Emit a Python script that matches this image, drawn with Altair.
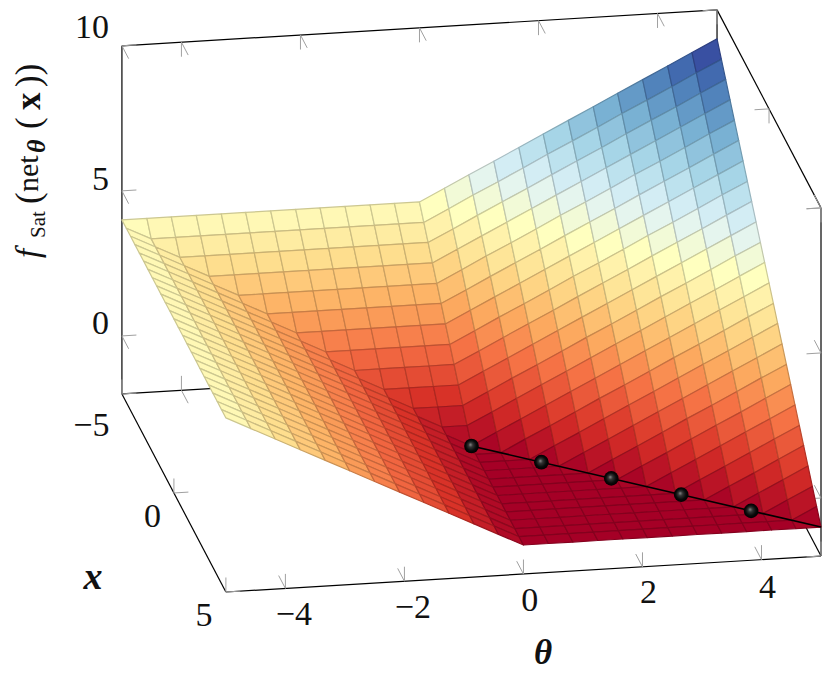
import altair as alt
import pandas as pd

THETA_GRID = [-5.0,-4.58,-4.17,-3.75,-3.33,-2.92,-2.5,-2.08,-1.67,-1.25,-0.83,-0.42,0.0,0.42,0.83,1.25,1.67,2.08,2.5,2.92,3.33,3.75,4.17,4.58,5.0]
X_GRID = [-5.0,-4.58,-4.17,-3.75,-3.33,-2.92,-2.5,-2.08,-1.67,-1.25,-0.83,-0.42,0.0,0.42,0.83,1.25,1.67,2.08,2.5,2.92,3.33,3.75,4.17,4.58,5.0]

# one row per x value, one column per theta value
Z_ROWS = [
[4.0,4.0,4.0,4.0,4.0,4.0,4.0,4.0,4.0,4.0,4.0,4.0,4.0,4.42,4.83,5.25,5.67,6.08,6.5,6.92,7.33,7.75,8.17,8.58,9.0],
[4.0,3.58,3.58,3.58,3.58,3.58,3.58,3.58,3.58,3.58,3.58,3.58,3.58,4.0,4.42,4.83,5.25,5.67,6.08,6.5,6.92,7.33,7.75,8.17,8.58],
[4.0,3.58,3.17,3.17,3.17,3.17,3.17,3.17,3.17,3.17,3.17,3.17,3.17,3.58,4.0,4.42,4.83,5.25,5.67,6.08,6.5,6.92,7.33,7.75,8.17],
[4.0,3.58,3.17,2.75,2.75,2.75,2.75,2.75,2.75,2.75,2.75,2.75,2.75,3.17,3.58,4.0,4.42,4.83,5.25,5.67,6.08,6.5,6.92,7.33,7.75],
[4.0,3.58,3.17,2.75,2.33,2.33,2.33,2.33,2.33,2.33,2.33,2.33,2.33,2.75,3.17,3.58,4.0,4.42,4.83,5.25,5.67,6.08,6.5,6.92,7.33],
[4.0,3.58,3.17,2.75,2.33,1.92,1.92,1.92,1.92,1.92,1.92,1.92,1.92,2.33,2.75,3.17,3.58,4.0,4.42,4.83,5.25,5.67,6.08,6.5,6.92],
[4.0,3.58,3.17,2.75,2.33,1.92,1.5,1.5,1.5,1.5,1.5,1.5,1.5,1.92,2.33,2.75,3.17,3.58,4.0,4.42,4.83,5.25,5.67,6.08,6.5],
[4.0,3.58,3.17,2.75,2.33,1.92,1.5,1.08,1.08,1.08,1.08,1.08,1.08,1.5,1.92,2.33,2.75,3.17,3.58,4.0,4.42,4.83,5.25,5.67,6.08],
[4.0,3.58,3.17,2.75,2.33,1.92,1.5,1.08,0.67,0.67,0.67,0.67,0.67,1.08,1.5,1.92,2.33,2.75,3.17,3.58,4.0,4.42,4.83,5.25,5.67],
[4.0,3.58,3.17,2.75,2.33,1.92,1.5,1.08,0.67,0.25,0.25,0.25,0.25,0.67,1.08,1.5,1.92,2.33,2.75,3.17,3.58,4.0,4.42,4.83,5.25],
[4.0,3.58,3.17,2.75,2.33,1.92,1.5,1.08,0.67,0.25,-0.17,-0.17,-0.17,0.25,0.67,1.08,1.5,1.92,2.33,2.75,3.17,3.58,4.0,4.42,4.83],
[4.0,3.58,3.17,2.75,2.33,1.92,1.5,1.08,0.67,0.25,-0.17,-0.58,-0.58,-0.17,0.25,0.67,1.08,1.5,1.92,2.33,2.75,3.17,3.58,4.0,4.42],
[4.0,3.58,3.17,2.75,2.33,1.92,1.5,1.08,0.67,0.25,-0.17,-0.58,-1.0,-0.58,-0.17,0.25,0.67,1.08,1.5,1.92,2.33,2.75,3.17,3.58,4.0],
[4.0,3.58,3.17,2.75,2.33,1.92,1.5,1.08,0.67,0.25,-0.17,-0.58,-1.0,-1.0,-0.58,-0.17,0.25,0.67,1.08,1.5,1.92,2.33,2.75,3.17,3.58],
[4.0,3.58,3.17,2.75,2.33,1.92,1.5,1.08,0.67,0.25,-0.17,-0.58,-1.0,-1.0,-1.0,-0.58,-0.17,0.25,0.67,1.08,1.5,1.92,2.33,2.75,3.17],
[4.0,3.58,3.17,2.75,2.33,1.92,1.5,1.08,0.67,0.25,-0.17,-0.58,-1.0,-1.0,-1.0,-1.0,-0.58,-0.17,0.25,0.67,1.08,1.5,1.92,2.33,2.75],
[4.0,3.58,3.17,2.75,2.33,1.92,1.5,1.08,0.67,0.25,-0.17,-0.58,-1.0,-1.0,-1.0,-1.0,-1.0,-0.58,-0.17,0.25,0.67,1.08,1.5,1.92,2.33],
[4.0,3.58,3.17,2.75,2.33,1.92,1.5,1.08,0.67,0.25,-0.17,-0.58,-1.0,-1.0,-1.0,-1.0,-1.0,-1.0,-0.58,-0.17,0.25,0.67,1.08,1.5,1.92],
[4.0,3.58,3.17,2.75,2.33,1.92,1.5,1.08,0.67,0.25,-0.17,-0.58,-1.0,-1.0,-1.0,-1.0,-1.0,-1.0,-1.0,-0.58,-0.17,0.25,0.67,1.08,1.5],
[4.0,3.58,3.17,2.75,2.33,1.92,1.5,1.08,0.67,0.25,-0.17,-0.58,-1.0,-1.0,-1.0,-1.0,-1.0,-1.0,-1.0,-1.0,-0.58,-0.17,0.25,0.67,1.08],
[4.0,3.58,3.17,2.75,2.33,1.92,1.5,1.08,0.67,0.25,-0.17,-0.58,-1.0,-1.0,-1.0,-1.0,-1.0,-1.0,-1.0,-1.0,-1.0,-0.58,-0.17,0.25,0.67],
[4.0,3.58,3.17,2.75,2.33,1.92,1.5,1.08,0.67,0.25,-0.17,-0.58,-1.0,-1.0,-1.0,-1.0,-1.0,-1.0,-1.0,-1.0,-1.0,-1.0,-0.58,-0.17,0.25],
[4.0,3.58,3.17,2.75,2.33,1.92,1.5,1.08,0.67,0.25,-0.17,-0.58,-1.0,-1.0,-1.0,-1.0,-1.0,-1.0,-1.0,-1.0,-1.0,-1.0,-1.0,-0.58,-0.17],
[4.0,3.58,3.17,2.75,2.33,1.92,1.5,1.08,0.67,0.25,-0.17,-0.58,-1.0,-1.0,-1.0,-1.0,-1.0,-1.0,-1.0,-1.0,-1.0,-1.0,-1.0,-1.0,-0.58],
[4.0,3.58,3.17,2.75,2.33,1.92,1.5,1.08,0.67,0.25,-0.17,-0.58,-1.0,-1.0,-1.0,-1.0,-1.0,-1.0,-1.0,-1.0,-1.0,-1.0,-1.0,-1.0,-1.0],
]

BALL_THETA = [0, 1, 2, 3, 4]
BALL_X = [0, 1, 2, 3, 4]
BALL_Z = [-1, -1, -1, -1, -1]
LINE_THETA = [0, 5]
LINE_X = [0, 5]
LINE_Z = [-1, -1]

THETA_TICKS = [-4, -2, 0, 2, 4]
X_TICKS = [-5, 0, 5]
Z_TICKS = [0, 5, 10]
THETA_LABELS = ["\u22124", "\u22122", "0", "2", "4"]
X_LABELS = ["\u22125", "0", "5"]
Z_LABELS = ["0", "5", "10"]

COLORS = ["#a50026","#d73027","#f46d43","#fdae61","#fee090","#ffffbf","#e0f3f8","#abd9e9","#74add1","#4575b4","#313695"]
COLOR_DOMAIN = [-1, 0, 1, 2, 3, 4, 5, 6, 7, 8, 9]
FONT = "Liberation Serif"
SHRINK = 0.9902  # keeps the whole box inside the page margin


def proj(t, x, z):
    sx = 228 + (t + 5) * 60.1 + (x - 5) * 10.5
    sy = 592 - (t + 5) * 3.63 + (x - 5) * 20 - (z + 2) * 29.3
    return (13 + (sx - 13) * SHRINK, 592 - (592 - sy) * SHRINK)


def dark(h, f=0.8):
    return "#" + "".join("%02x" % int(int(h[i:i + 2], 16) * f) for i in (1, 3, 5))


# surface cells
features = []
for j in range(len(X_GRID) - 1):
    for i in range(len(THETA_GRID) - 1):
        idx = [(i, j), (i + 1, j), (i + 1, j + 1), (i, j + 1)]
        ring = [list(proj(THETA_GRID[a], X_GRID[b], Z_ROWS[b][a])) for a, b in idx]
        ring.append(ring[0])
        zm = sum(Z_ROWS[b][a] for a, b in idx) / 4
        features.append({"type": "Feature", "properties": {"zm": zm},
                         "geometry": {"type": "Polygon", "coordinates": [ring]}})

surface = alt.Chart(alt.Data(values=features)).mark_geoshape(strokeWidth=1.2, strokeJoin="round").encode(
    fill=alt.Fill("properties.zm:Q", legend=None,
                  scale=alt.Scale(domain=COLOR_DOMAIN, range=COLORS, interpolate="rgb")),
    stroke=alt.Stroke("properties.zm:Q", legend=None,
                      scale=alt.Scale(domain=COLOR_DOMAIN, range=[dark(c) for c in COLORS], interpolate="rgb")),
).project(type="identity", scale=1, translate=[-8, -8])

XS = alt.Scale(domain=[8, 822], range=[0, 814], nice=False, zero=False)
YS = alt.Scale(domain=[8, 672], range=[0, 664], nice=False, zero=False)


def enc_pos():
    return dict(x=alt.X("px:Q", scale=XS, axis=None), y=alt.Y("py:Q", scale=YS, axis=None))


def rules(segs, color, width):
    rows = []
    for (a, b) in segs:
        rows.append({"px": a[0], "py": a[1], "px2": b[0], "py2": b[1]})
    return alt.Chart(pd.DataFrame(rows)).mark_rule(color=color, strokeWidth=width).encode(
        x2="px2:Q", y2="py2:Q", **enc_pos())


# box
edges = [
    ((-5, -5, -2), (-5, -5, 10)), ((-5, -5, 10), (5, -5, 10)), ((5, -5, -2), (5, -5, 10)),
    ((-5, -5, -2), (5, -5, -2)), ((5, -5, 10), (5, 5, 10)), ((5, 5, -2), (5, 5, 10)),
    ((5, -5, -2), (5, 5, -2)), ((-5, -5, -2), (-5, 5, -2)), ((-5, 5, -2), (5, 5, -2)),
]
box = rules([(proj(*a), proj(*b)) for a, b in edges], "black", 1.2)

# ticks: unit pixel directions along the axes
TL = 14.5
def unit(dt, dx, dz):
    p0 = proj(0, 0, 0)
    p1 = proj(dt, dx, dz)
    d = ((p1[0] - p0[0]) ** 2 + (p1[1] - p0[1]) ** 2) ** 0.5
    return ((p1[0] - p0[0]) / d * TL, (p1[1] - p0[1]) / d * TL)

def tick(p, dirs):
    q = proj(*p)
    return [(q, (q[0] + unit(*d)[0], q[1] + unit(*d)[1])) for d in dirs]

segs = []
for t in THETA_TICKS:
    segs += tick((t, 5, -2), [(0, 0, 1), (0, -1, 0)])
    segs += tick((t, -5, -2), [(0, 0, 1), (0, 1, 0)])
    segs += tick((t, -5, 10), [(0, 0, -1), (0, 1, 0)])
for x in X_TICKS:
    segs += tick((-5, x, -2), [(0, 0, 1), (1, 0, 0)])
    segs += tick((5, x, 10), [(0, 0, -1), (-1, 0, 0)])
    segs += tick((5, x, -2), [(0, 0, 1), (-1, 0, 0)])
for z in Z_TICKS:
    segs += tick((-5, -5, z), [(1, 0, 0), (0, 1, 0)])
    segs += tick((5, 5, z), [(-1, 0, 0), (0, -1, 0)])
ticks = rules(segs, "#a0a0a0", 1)

# tick labels: centred at a small pixel offset from the projected tick
rows = []
for t, lab, off in zip(THETA_TICKS, THETA_LABELS, [(8.5, 27), (8.5, 27), (6.4, 27), (6, 26.5), (6, 28)]):
    p = proj(t, 5, -2)
    rows.append({"px": p[0] + off[0], "py": p[1] + off[1], "label": lab})
for x, lab, off in zip(X_TICKS, X_LABELS, [(-30.5, 32.5), (-21.5, 24.5), (-22, 24)]):
    p = proj(-5, x, -2)
    rows.append({"px": p[0] + off[0], "py": p[1] + off[1], "label": lab})
for z, lab, off in zip(Z_TICKS, Z_LABELS, [(-21.5, -11.5), (-21.5, -11), (-30, -18)]):
    p = proj(-5, -5, z)
    rows.append({"px": p[0] + off[0], "py": p[1] + off[1], "label": lab})
tick_text = alt.Chart(pd.DataFrame(rows)).mark_text(
    font=FONT, fontSize=34, align="center", baseline="middle", color="#111111"
).encode(text="label:N", **enc_pos())


def label(txt, px, py, size, **kw):
    return alt.Chart(pd.DataFrame([{"px": px, "py": py, "label": txt}])).mark_text(
        font=FONT, fontSize=size, color="#111111", **kw
    ).encode(text="label:N", **enc_pos())


axis_labels = [
    label("x", 93, 578, 38, fontStyle="italic", fontWeight="bold", align="center", baseline="middle"),
    label("\u03b8", 543, 653, 35, fontStyle="italic", fontWeight="bold", align="center", baseline="middle"),
]
V = dict(angle=270, align="left", baseline="alphabetic")
axis_labels += [
    label("f", 39, 258, 33, fontStyle="italic", **V),
    label("Sat", 45, 238, 21, **V),
    label("(", 40, 204, 35, **V),
    label("net", 38, 192, 30, **V),
    label("\u03b8", 45, 153, 26, fontStyle="italic", fontWeight="bold", **V),
    label("(", 40, 129, 35, **V),
    label("x", 40, 110, 35, fontWeight="bold", **V),
    label("))", 40, 87, 35, **V),
]

# minimum line and balls
lp = [proj(a, b, c) for a, b, c in zip(LINE_THETA, LINE_X, LINE_Z)]
min_line = rules([(lp[0], lp[1])], "black", 1.6)
bp = [proj(a, b, c) for a, b, c in zip(BALL_THETA, BALL_X, BALL_Z)]
ball_grad = alt.RadialGradient(
    gradient="radial", x1=0.42, y1=0.4, r1=0.0, x2=0.5, y2=0.5, r2=0.5,
    stops=[alt.GradientStop(offset=0, color="#8c8c8c"),
           alt.GradientStop(offset=0.3, color="#333333"),
           alt.GradientStop(offset=0.7, color="#0a0a0a"),
           alt.GradientStop(offset=1, color="#000000")])
balls = alt.Chart(pd.DataFrame([{"px": p[0], "py": p[1]} for p in bp])).mark_circle(
    size=215, opacity=1, fill=ball_grad).encode(**enc_pos())

chart = alt.layer(box, ticks, surface, min_line, balls, tick_text, *axis_labels).resolve_scale(
    fill="independent", stroke="independent"
).properties(width=814, height=664, padding=0, background="white",
             autosize=alt.AutoSizeParams(type="none", contains="padding")).configure_view(stroke=None)

chart.save("out.html", embed_options={"renderer": "svg", "actions": False})
